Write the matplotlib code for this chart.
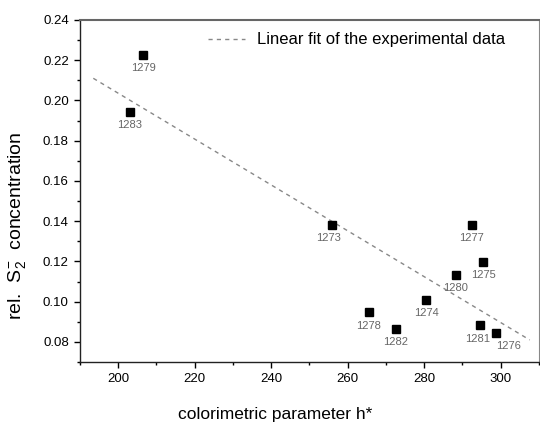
import matplotlib
matplotlib.use("Agg")
import matplotlib.pyplot as plt
from matplotlib.ticker import MultipleLocator

plt.rcParams['font.family'] = ['Liberation Sans', 'DejaVu Sans']
plt.rcParams['mathtext.fontset'] = 'custom'
plt.rcParams['mathtext.rm'] = 'Liberation Sans'
plt.rcParams['mathtext.it'] = 'Liberation Sans:italic'

# ── Data ── #
samples = ['1279', '1283', '1273', '1277', '1275', '1280', '1274', '1278', '1282', '1281', '1276']
hue = [206.5, 203.1, 255.8, 292.4, 295.5, 288.3, 280.6, 265.5, 272.6, 294.6, 298.9]
conc = [0.2225, 0.1945, 0.138, 0.1383, 0.1197, 0.1133, 0.1007, 0.0947, 0.0865, 0.0882, 0.0845]
# label offsets (points) relative to each marker
label_dx = [0, 0, -2, 0, 0, 0, 0, 0, 0, -2, 9]
label_dy = [-9.5, -9.5, -9.5, -9.5, -9.5, -9.5, -9.5, -9.5, -9.5, -9.5, -9.5]

fit_x = [193.5, 307.6]
fit_y = [0.211, 0.081]

fig = plt.figure(figsize=(5.4, 4.24), dpi=100)
ax = fig.add_axes([0.148, 0.146, 0.850, 0.807])

ax.plot(fit_x, fit_y, linestyle=(0, (3, 3)), color='#888888', linewidth=1.0,
        label='Linear fit of the experimental data')
ax.plot(hue, conc, linestyle='none', marker='s', markersize=5.5, color='black')

for name, x, y, dx, dy in zip(samples, hue, conc, label_dx, label_dy):
    ax.annotate(name, (x, y), xytext=(dx, dy), textcoords='offset points',
                ha='center', va='center', fontsize=8, color='#666666')

ax.set_xlim(190, 310)
ax.set_ylim(0.07, 0.24)
ax.xaxis.set_major_locator(MultipleLocator(20))
ax.xaxis.set_minor_locator(MultipleLocator(10))
ax.yaxis.set_major_locator(MultipleLocator(0.02))
ax.yaxis.set_minor_locator(MultipleLocator(0.01))
ax.yaxis.set_major_formatter(plt.FuncFormatter(lambda v, p: f"{v:.2f}"))

ax.tick_params(which='major', direction='out', length=4, width=1, labelsize=9.5, pad=4)
ax.tick_params(which='minor', direction='out', length=2.5, width=1)

for s in ['left', 'bottom']:
    ax.spines[s].set_color('#222222')
    ax.spines[s].set_linewidth(1.0)
ax.spines['top'].set_color('#666666')
ax.spines['top'].set_linewidth(1.5)
ax.spines['right'].set_color('#888888')
ax.spines['right'].set_linewidth(0.8)

ax.set_xlabel('colorimetric parameter h*', fontsize=12.5, va='center')
ax.set_ylabel(r'rel.  S$_2^{-}$  concentration', fontsize=14, va='center')
# label centres (pixels -> axes fraction)
ax.xaxis.set_label_coords((275 - 80) / 459, (362 - 414) / 342)
ax.yaxis.set_label_coords((17 - 80) / 459, (362 - 226) / 342)

ax.legend(loc='center right', bbox_to_anchor=((505 - 80) / 459, (362 - 40) / 342),
          frameon=False, fontsize=12, handlelength=2.2, handletextpad=0.7,
          borderpad=0, borderaxespad=0)

plt.savefig('out.png', dpi=100)
